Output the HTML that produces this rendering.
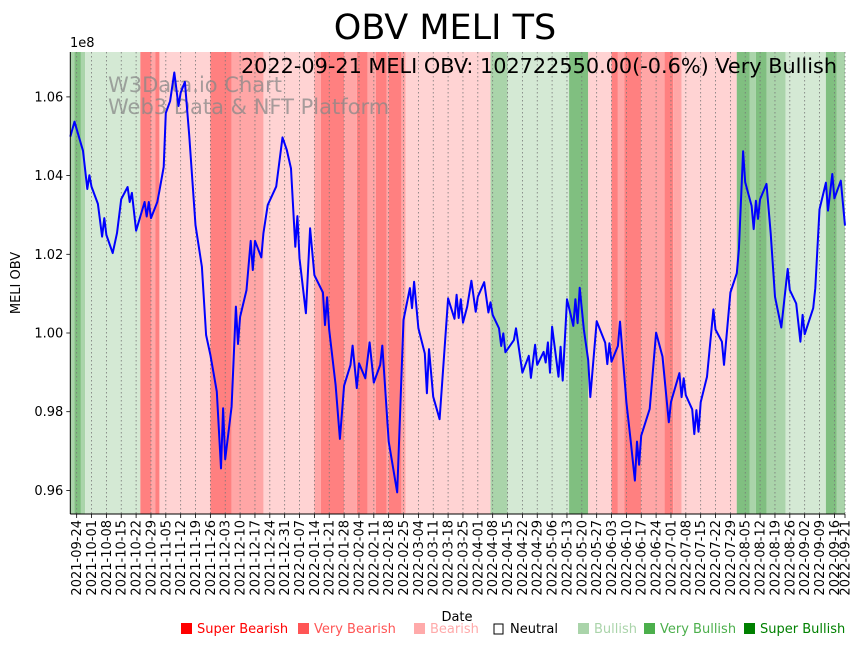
<!DOCTYPE html>
<html><head><meta charset="utf-8"><style>
body{margin:0;background:#fff;}
svg{display:block;font-family:"DejaVu Sans","Liberation Sans",sans-serif;}
</style></head><body>
<svg id="chart" width="864" height="646" viewBox="0 0 864 646" xmlns="http://www.w3.org/2000/svg">
<text x="445" y="39" font-size="35" text-anchor="middle">OBV MELI TS</text>
<g id="bands"></g>
<g id="grid"></g>
<text x="108" y="92" font-size="21" fill="#888" fill-opacity="0.75">W3Data.io Chart</text>
<text x="108" y="114" font-size="21" fill="#888" fill-opacity="0.75">Web3 Data &amp; NFT Platform</text>
<path id="line" fill="none" stroke="#0000ff" stroke-width="2" stroke-linejoin="round"></path>
<text x="837" y="73" font-size="20.8" text-anchor="end">2022-09-21 MELI OBV: 102722550.00(-0.6%) Very Bullish</text>
<g id="axes"></g>
<text x="70" y="47" font-size="13">1e8</text>
<text transform="translate(20,283) rotate(-90)" font-size="13" text-anchor="middle">MELI OBV</text>
<text x="457" y="621" font-size="13" text-anchor="middle">Date</text>
<g id="legend" font-size="13"></g>
</svg>
<script>
const dayOffsets=[0,2,6,8,9,10,13,15,16,17,20,22,24,27,28,29,31,33,35,36,37,38,41,42,44,45,47,49,51,52,54,56,59,62,64,66,69,71,72,73,76,78,79,80,83,85,86,87,90,91,93,97,100,102,104,106,107,108,111,113,115,119,120,121,122,125,127,129,132,133,135,136,139,141,143,146,147,148,150,154,157,160,161,162,164,167,168,169,171,174,178,181,182,183,184,185,187,189,191,192,195,197,198,199,202,203,204,205,209,210,213,216,217,219,220,223,224,225,226,227,230,231,232,234,237,238,239,240,242,244,245,248,252,253,254,255,258,259,262,264,266,267,268,269,273,276,279,282,283,287,288,289,290,293,294,295,296,297,300,303,304,307,308,311,314,315,317,318,321,322,323,324,325,328,330,332,335,338,339,342,344,345,346,350,351,353,356,357,359,360,363,365];
const obvValues=[1.0499,1.0537,1.0463,1.0366,1.0401,1.0372,1.0328,1.0245,1.0292,1.0249,1.0203,1.0254,1.0340,1.0371,1.0333,1.0356,1.0260,1.0296,1.0333,1.0296,1.0333,1.0292,1.0333,1.0361,1.0422,1.0559,1.0589,1.0662,1.0577,1.0611,1.0638,1.0503,1.0274,1.0168,0.9995,0.9944,0.9851,0.9656,0.9809,0.9679,0.9813,1.0067,0.9972,1.0041,1.0109,1.0234,1.0160,1.0234,1.0192,1.0253,1.0325,1.0372,1.0497,1.0465,1.0418,1.0219,1.0297,1.0190,1.0050,1.0266,1.0147,1.0103,1.0020,1.0091,1.0008,0.9868,0.9731,0.9866,0.9919,0.9968,0.9860,0.9923,0.9885,0.9976,0.9874,0.9919,0.9968,0.9889,0.9724,0.9595,1.0033,1.0114,1.0063,1.0130,1.0012,0.9948,0.9847,0.9959,0.9838,0.9781,1.0088,1.0036,1.0097,1.0038,1.0086,1.0026,1.0067,1.0133,1.0054,1.0092,1.0129,1.0052,1.0078,1.0046,1.0012,0.9967,0.9999,0.9951,0.9982,1.0012,0.9899,0.9942,0.9886,0.9970,0.9919,0.9952,0.9925,0.9976,0.9899,1.0016,0.9889,0.9965,0.9879,1.0086,1.0018,1.0086,1.0025,1.0115,1.0008,0.9931,0.9837,1.0030,0.9975,0.9921,0.9974,0.9927,0.9967,1.0029,0.9824,0.9728,0.9625,0.9724,0.9665,0.9739,0.9807,1.0001,0.9940,0.9773,0.9825,0.9898,0.9837,0.9885,0.9842,0.9806,0.9743,0.9804,0.9749,0.9824,0.9889,1.0060,1.0009,0.9978,0.9919,1.0103,1.0152,1.0213,1.0462,1.0383,1.0323,1.0264,1.0336,1.0290,1.0340,1.0379,1.0253,1.0092,1.0014,1.0163,1.0109,1.0075,0.9978,1.0046,0.9997,1.0063,1.0114,1.0314,1.0382,1.0311,1.0404,1.0342,1.0387,1.0273];
const bandStarts=[0,2,5,7,33,38,40,42,66,76,91,115,118,129,135,140,144,149,150,156,158,198,206,235,244,255,258,261,269,280,284,288,314,320,323,328,337,356,361];
const bandEnds=[2,5,7,33,38,40,42,66,76,91,115,118,129,135,140,144,149,150,156,158,198,206,235,244,255,258,261,269,280,284,288,314,320,323,328,337,356,361,365];
const bandLevels=["vbull","sbull","vbull","bull","sbear","vbear","sbear","bear","sbear","vbear","bear","vbear","sbear","vbear","sbear","vbear","sbear","vbear","sbear","vbear","bear","vbull","bull","sbull","bear","sbear","vbear","sbear","vbear","sbear","vbear","bear","sbull","vbull","sbull","vbull","bull","sbull","vbull"];
const yTicks=[0.96,0.98,1.00,1.02,1.04,1.06];
const yTickLabels=["0.96","0.98","1.00","1.02","1.04","1.06"];
const startDate="2021-09-21";
const legendLabels=["Super Bearish","Very Bearish","Bearish","Neutral","Bullish","Very Bullish","Super Bullish"];

const NS="http://www.w3.org/2000/svg";
const L=70.3,R=845,T=52,B=514;
const xDay=d=>L+(R-L)*d/365;
const yVal=v=>333-(v-1.0)/0.02*78.7;
const bandFill={sbear:"#ff8080",vbear:"#ffa6a6",bear:"#ffd3d3",bull:"#d4e9d4",vbull:"#aad4aa",sbull:"#80bf80"};
function mk(tag,attrs,parent){const e=document.createElementNS(NS,tag);for(const k in attrs)e.setAttribute(k,attrs[k]);parent.appendChild(e);return e;}

const bands=document.getElementById('bands');
bandStarts.forEach((s,i)=>{
  const r=mk('rect',{x:xDay(s),y:T,width:xDay(bandEnds[i])-xDay(s),height:B-T,fill:bandFill[bandLevels[i]]},bands);
  
  
});

const base=new Date(startDate+"T00:00:00Z");
function fmt(d){const dt=new Date(base.getTime()+d*86400000);return dt.toISOString().slice(0,10);}
const tickDays=[];for(let d=3;d<=360;d+=7)tickDays.push(d);tickDays.push(365);
const grid=document.getElementById('grid'),axes=document.getElementById('axes');
tickDays.forEach(d=>{
  const x=xDay(d);
  const g=mk('line',{x1:x,x2:x,y1:T,y2:B,stroke:"#777","stroke-width":0.8,"stroke-dasharray":"1.5,2.5"},grid);
  
  
  mk('line',{x1:x,x2:x,y1:B,y2:B+4,stroke:"#000","stroke-width":0.8},axes);
  const t=mk('text',{transform:`translate(${x+4.5},${B+6}) rotate(-90)`,"font-size":13,"text-anchor":"end"},axes);
  
  
  t.textContent=fmt(d);
});
yTicks.forEach((v,i)=>{
  const y=yVal(v);
  mk('line',{x1:L-4,x2:L,y1:y,y2:y,stroke:"#000","stroke-width":0.8},axes);
  const t=mk('text',{x:L-7,y:y+4.5,"font-size":13,"text-anchor":"end"},axes);
  
  
  t.textContent=yTickLabels[i];
});
mk('line',{x1:L,x2:L,y1:T,y2:B,stroke:"#000","stroke-width":1},axes);
mk('line',{x1:L,x2:R,y1:B,y2:B,stroke:"#000","stroke-width":1},axes);

document.getElementById('line').setAttribute('d',dayOffsets.map((d,i)=>(i?'L':'M')+xDay(d).toFixed(1)+','+yVal(obvValues[i]).toFixed(1)).join(''));

const legend=document.getElementById('legend');
const lx=[181,298,414,494,578,644,744];
const lcol=["#ff0000","#ff5555","#ffaaaa","#000","#aad4aa","#4caf4c","#008000"];
legendLabels.forEach((lab,i)=>{
  const g=mk('g',{},legend);
  
  
  if(i===3) mk('rect',{x:lx[i],y:624,width:9,height:10,fill:"none",stroke:"#000","stroke-width":1},g);
  else mk('rect',{x:lx[i],y:623,width:11,height:11,fill:lcol[i]},g);
  const t=mk('text',{x:lx[i]+16,y:633,fill:lcol[i]},g);
  t.textContent=lab;
});
</script>
</body></html>
